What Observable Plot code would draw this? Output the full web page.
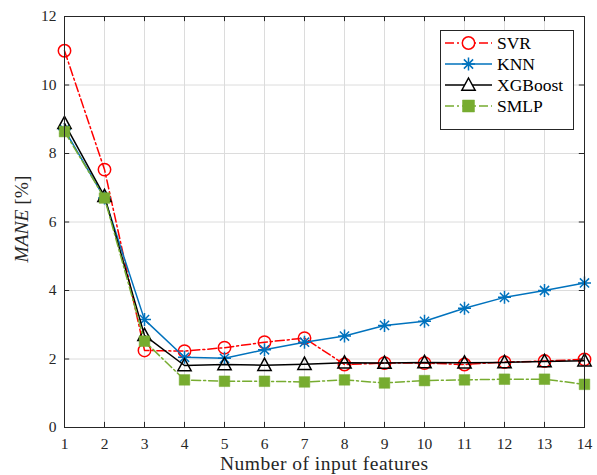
<!DOCTYPE html>
<html><head>
<meta charset="utf-8">
<script src="https://cdn.jsdelivr.net/npm/d3@7"></script>
<script src="https://cdn.jsdelivr.net/npm/@observablehq/plot@0.6"></script>
<style>
body{margin:0;background:#fff}
svg, svg text, svg tspan { font-family: "Liberation Serif", "Times New Roman", "DejaVu Serif", serif !important; }
</style>
</head><body><div id="chart"></div>
<script>
const features = [1,2,3,4,5,6,7,8,9,10,11,12,13,14];
const svr     = [11.0, 7.53, 2.25, 2.23, 2.33, 2.49, 2.61, 1.84, 1.88, 1.88, 1.84, 1.91, 1.94, 1.99];
const knn     = [8.70, 6.70, 3.15, 2.05, 2.02, 2.27, 2.49, 2.67, 2.98, 3.10, 3.48, 3.80, 4.00, 4.22];
const xgboost = [8.88, 6.75, 2.69, 1.81, 1.84, 1.82, 1.85, 1.89, 1.88, 1.90, 1.89, 1.90, 1.93, 1.95];
const smlp    = [8.64, 6.70, 2.52, 1.39, 1.35, 1.35, 1.33, 1.39, 1.30, 1.37, 1.39, 1.41, 1.41, 1.26];
const seriesNames = ["SVR", "KNN", "XGBoost", "SMLP"];
const xTicks = [1,2,3,4,5,6,7,8,9,10,11,12,13,14];
const yTicks = [0,2,4,6,8,10,12];

const colors = {SVR: "#ff0000", KNN: "#0072bd", XGBoost: "#000000", SMLP: "#77ac30"};
const dashes = {SVR: "9,3,2,3", KNN: null, XGBoost: null, SMLP: "9,3,2,3"};
const values = {SVR: svr, KNN: knn, XGBoost: xgboost, SMLP: smlp};
const data = seriesNames.map(s => features.map((f, i) => ({x: f, y: values[s][i], s})));

// MATLAB-like asterisk: plus + cross
const starSymbol = {
  draw(ctx, size) {
    const r = Math.sqrt(size / Math.PI);
    const d = r * Math.SQRT1_2;
    ctx.moveTo(0, -r); ctx.lineTo(0, r);
    ctx.moveTo(-r, 0); ctx.lineTo(r, 0);
    ctx.moveTo(-d, -d); ctx.lineTo(d, d);
    ctx.moveTo(-d, d); ctx.lineTo(d, -d);
  }
};
const triSymbol = {
  draw(ctx, size) {
    const r = Math.sqrt(size / Math.PI);
    ctx.moveTo(0, -r);
    ctx.lineTo(r * 0.95, r * 0.75);
    ctx.lineTo(-r * 0.95, r * 0.75);
    ctx.closePath();
  }
};

const font = "Liberation Serif, Times New Roman, DejaVu Serif, serif";
const gridColor = "#dcdcdc";
const axisColor = "#262626";

const marks = [
  Plot.ruleX(xTicks, {stroke: gridColor, strokeWidth: 1, strokeOpacity: 1}),
  Plot.ruleY(yTicks, {stroke: gridColor, strokeWidth: 1, strokeOpacity: 1}),
];
for (const s of seriesNames) {
  const d = data[seriesNames.indexOf(s)];
  marks.push(Plot.line(d, {x: "x", y: "y", stroke: colors[s], strokeWidth: 1.5, strokeDasharray: dashes[s]}));
  if (s === "SVR") marks.push(Plot.dot(d, {x: "x", y: "y", symbol: "circle", r: 6.2, stroke: colors[s], strokeWidth: 1.5, fill: "none"}));
  if (s === "KNN") marks.push(Plot.dot(d, {x: "x", y: "y", symbol: starSymbol, r: 6.5, stroke: colors[s], strokeWidth: 1.5, fill: "none"}));
  if (s === "XGBoost") marks.push(Plot.dot(d, {x: "x", y: "y", symbol: triSymbol, r: 7, stroke: colors[s], strokeWidth: 1.5, fill: "none"}));
  if (s === "SMLP") marks.push(Plot.dot(d, {x: "x", y: "y", symbol: "square", r: 6, fill: colors[s], stroke: colors[s], strokeWidth: 0.5}));
}
// inward ticks on all four sides
marks.push(
  Plot.ruleX(xTicks, {y1: 0, y2: 0.15, stroke: axisColor, strokeWidth: 1}),
  Plot.ruleX(xTicks, {y1: 12, y2: 11.85, stroke: axisColor, strokeWidth: 1}),
  Plot.ruleY(yTicks, {x1: 1, x2: 1.13, stroke: axisColor, strokeWidth: 1}),
  Plot.ruleY(yTicks, {x1: 14, x2: 13.87, stroke: axisColor, strokeWidth: 1}),
  Plot.frame({stroke: axisColor, strokeWidth: 1}),
  Plot.axisX(xTicks, {tickSize: 0, tickPadding: 10, fontSize: 15.5, label: null}),
  Plot.axisY(yTicks, {tickSize: 0, tickPadding: 8, fontSize: 15.5, label: null})
);

const chart = Plot.plot({
  width: 597, height: 475,
  marginLeft: 64, marginRight: 13, marginTop: 16, marginBottom: 48,
  style: {fontFamily: font, fontSize: "15.5px", color: "#262626", background: "#fff"},
  x: {domain: [1, 14]},
  y: {domain: [0, 12]},
  marks
});

const svg = d3.select(chart);
// axis labels
svg.append("text")
  .attr("x", 324).attr("y", 470)
  .attr("text-anchor", "middle")
  .attr("font-size", 19.5).attr("fill", "#262626")
  .attr("textLength", 208).attr("lengthAdjust", "spacing")
  .text("Number of input features");
const yl = svg.append("text")
  .attr("transform", "translate(28,219) rotate(-90)")
  .attr("text-anchor", "middle")
  .attr("font-size", 19.5).attr("fill", "#262626");
yl.append("tspan").attr("font-style", "italic").text("MANE");
yl.append("tspan").text(" [%]");

// legend
const lg = svg.append("g").attr("font-size", 17.5).attr("text-anchor", "start");
lg.append("rect").attr("x", 440.5).attr("y", 30.5).attr("width", 133).attr("height", 99)
  .attr("fill", "#fff").attr("stroke", axisColor).attr("stroke-width", 1);
const sym = {SVR: d3.symbol(d3.symbolCircle, Math.PI * 6.2 * 6.2), KNN: d3.symbol(starSymbol, Math.PI * 6.5 * 6.5),
  XGBoost: d3.symbol(triSymbol, Math.PI * 49), SMLP: d3.symbol(d3.symbolSquare, 144)};
seriesNames.forEach((s, i) => {
  const y = 43 + i * 21;
  lg.append("line").attr("x1", 445).attr("x2", 492).attr("y1", y).attr("y2", y)
    .attr("stroke", colors[s]).attr("stroke-width", 1.5).attr("stroke-dasharray", dashes[s]);
  lg.append("path").attr("d", sym[s]()).attr("transform", `translate(468.5,${y})`)
    .attr("fill", s === "SMLP" ? colors[s] : "#fff").attr("stroke", colors[s]).attr("stroke-width", s === "SMLP" ? 0.5 : 1.5);
  lg.append("text").attr("x", 497).attr("y", y).attr("dy", "0.35em").attr("text-anchor", "start").attr("fill", "#000").text(s);
});

document.getElementById("chart").appendChild(chart);
</script>
</body></html>
